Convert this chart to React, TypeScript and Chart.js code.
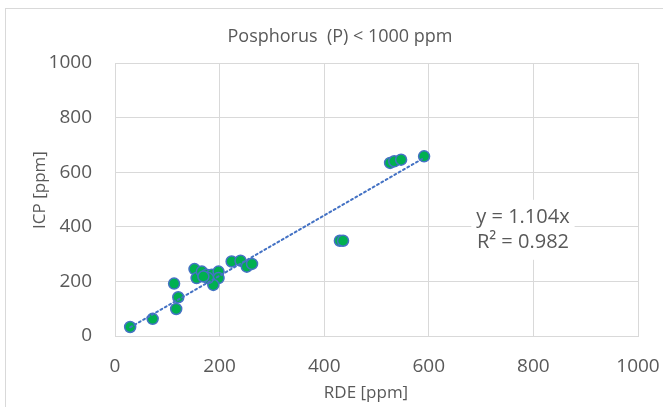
import React, { useEffect, useRef } from "react";
import { Chart, registerables } from "chart.js";

Chart.register(...registerables);

// ---- data ----
const RDE_PPM = [29, 72, 117, 121, 113, 152, 156, 166, 175, 185, 198, 198, 188, 178, 169, 223, 240, 252, 262, 430, 436, 526, 534, 547, 591];
const ICP_PPM = [33, 63, 99, 142, 192, 245, 212, 236, 224, 224, 236, 212, 187, 212, 218, 273, 276, 254, 264, 349, 349, 634, 640, 646, 658];
const X_TICKS = [0, 200, 400, 600, 800, 1000];
const Y_TICKS = [0, 200, 400, 600, 800, 1000];
const TREND_SLOPE = 1.104;
const R_SQUARED = 0.982;
const TITLE = "Posphorus  (P) < 1000 ppm";
const X_TITLE = "RDE [ppm]";
const Y_TITLE = "ICP [ppm]";
const LABEL_AT = { x: 780, y: 389 };

const TEXT = "#595959";
const GRID = "#d9d9d9";
const FONT = "'Open Sans', 'Noto Sans', sans-serif";

export default function App() {
  const ref = useRef<HTMLCanvasElement | null>(null);

  useEffect(() => {
    if (!ref.current) return;
    const pts = RDE_PPM.map((x, i) => ({ x, y: ICP_PPM[i] }));
    const xMin = Math.min(...RDE_PPM);
    const xMax = Math.max(...RDE_PPM);
    const trend = [
      { x: xMin, y: TREND_SLOPE * xMin },
      { x: xMax, y: TREND_SLOPE * xMax },
    ];

    const overlay = {
      id: "overlay",
      afterDatasetsDraw(chart: any) {
        const ctx = chart.ctx;
        const sx = chart.scales.x;
        const sy = chart.scales.y;
        const cx = sx.getPixelForValue(LABEL_AT.x);
        const cy = sy.getPixelForValue(LABEL_AT.y);
        const lines = [`y = ${TREND_SLOPE.toFixed(3)}x`, `R² = ${R_SQUARED.toFixed(3)}`];
        ctx.save();
        ctx.font = `20px ${FONT}`;
        const w = Math.max(...lines.map((l) => ctx.measureText(l).width));
        const lh = 25;
        ctx.fillStyle = "#ffffff";
        ctx.fillRect(cx - w / 2 - 5, cy - lh - 5, w + 10, lh * 2 + 10);
        ctx.fillStyle = TEXT;
        ctx.textAlign = "center";
        ctx.textBaseline = "middle";
        ctx.fillText(lines[0], cx, cy - lh / 2);
        ctx.fillText(lines[1], cx, cy + lh / 2);
        ctx.restore();
      },
      afterDraw(chart: any) {
        const ctx = chart.ctx;
        ctx.save();
        ctx.fillStyle = TEXT;
        ctx.textAlign = "center";
        ctx.textBaseline = "middle";
        ctx.font = `18px ${FONT}`;
        ctx.fillText(TITLE, 340, 37);
        ctx.font = `17px ${FONT}`;
        ctx.fillText(X_TITLE, 366, 393);
        ctx.translate(40, 190);
        ctx.rotate(-Math.PI / 2);
        ctx.fillText(Y_TITLE, 0, 0);
        ctx.restore();
      },
    };

    const chart = new Chart(ref.current, {
      type: "scatter",
      data: {
        datasets: [
          {
            type: "line",
            data: trend,
            borderColor: "#4472C4",
            borderWidth: 2,
            borderDash: [2, 3],
            borderCapStyle: "round",
            pointRadius: 0,
            fill: false,
            order: 0,
          } as any,
          {
            data: pts,
            backgroundColor: "#00B050",
            borderColor: "#4472C4",
            borderWidth: 1.5,
            pointRadius: 5.5,
            order: 1,
          },
        ],
      },
      options: {
        responsive: false,
        animation: false,
        devicePixelRatio: 1,
        layout: { padding: { left: 0, top: 63, right: 25, bottom: 0 } },
        plugins: {
          legend: { display: false },
          tooltip: { enabled: false },
          title: { display: false },
        },
        scales: {
          x: {
            type: "linear",
            min: 0,
            max: 1000,
            afterBuildTicks: (s: any) => {
              s.ticks = X_TICKS.map((v) => ({ value: v }));
            },
            afterFit: (s: any) => {
              s.height = 71;
              s.paddingLeft = 0;
              s.paddingRight = 0;
            },
            grid: { color: GRID, drawTicks: false, lineWidth: 1 },
            border: { color: GRID },
            ticks: {
              color: TEXT,
              padding: 19,
              font: { family: FONT, size: 19 },
              callback: (v: any) => String(v),
            },
            title: { display: false },
          },
          y: {
            type: "linear",
            min: 0,
            max: 1000,
            afterBuildTicks: (s: any) => {
              s.ticks = Y_TICKS.map((v) => ({ value: v }));
            },
            afterFit: (s: any) => {
              s.width = 115;
              s.paddingTop = 0;
              s.paddingBottom = 0;
            },
            grid: { color: GRID, drawTicks: false, lineWidth: 1 },
            border: { color: GRID },
            ticks: {
              color: TEXT,
              padding: 23,
              font: { family: FONT, size: 19 },
              callback: (v: any) => String(v),
            },
            title: { display: false },
          },
        },
      } as any,
      plugins: [overlay],
    });
    return () => chart.destroy();
  }, []);

  return (
    <div
      style={{
        position: "absolute",
        left: 0,
        top: 0,
        width: 663,
        height: 407,
        overflow: "hidden",
        background: "#ffffff",
      }}
    >
      <div
        style={{
          position: "absolute",
          left: 5,
          top: 8,
          width: 720,
          height: 460,
          border: `1px solid ${GRID}`,
        }}
      />
      <canvas ref={ref} width={663} height={407} style={{ position: "absolute", left: 0, top: 0 }} />
    </div>
  );
}
